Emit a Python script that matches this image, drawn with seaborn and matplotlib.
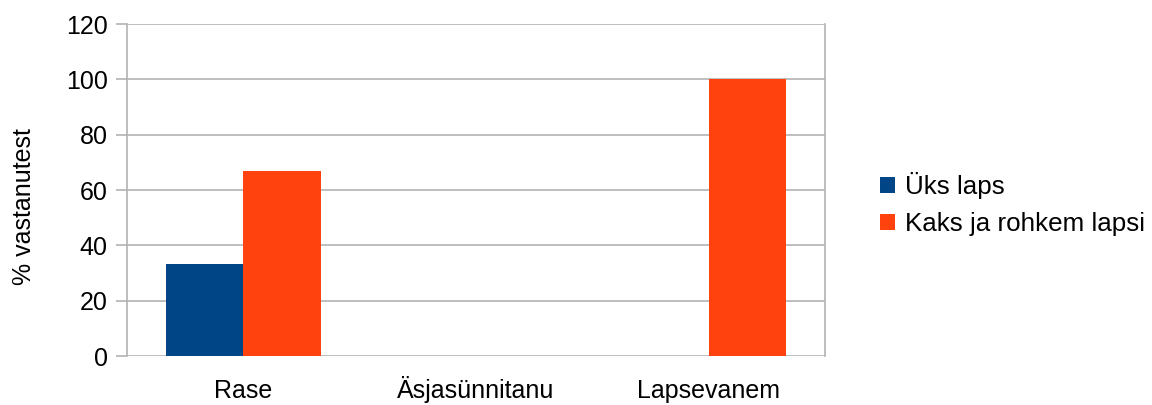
import matplotlib
matplotlib.use("Agg")
import matplotlib.pyplot as plt
import seaborn as sns
import pandas as pd
from matplotlib.patches import Patch

# Data
categories = ["Rase", "Äsjasünnitanu", "Lapsevanem"]
series_names = ["Üks laps", "Kaks ja rohkem lapsi"]
uks_laps = [33.3, 0, 0]
kaks_ja_rohkem = [66.7, 0, 100]
y_ticks = [0, 20, 40, 60, 80, 100, 120]
colors = ["#004586", "#ff420e"]

df = pd.DataFrame({
    "kategooria": categories * 2,
    "grupp": [series_names[0]] * 3 + [series_names[1]] * 3,
    "protsent": uks_laps + kaks_ja_rohkem,
})

sns.set_theme(style="white")
plt.rcParams["font.family"] = ["Liberation Sans", "DejaVu Sans"]
plt.rcParams["text.color"] = "black"
plt.rcParams["axes.labelcolor"] = "black"
plt.rcParams["xtick.color"] = "black"
plt.rcParams["ytick.color"] = "black"
fs = 18
legend_fs = 18.7
grid_color = "#b3b3b3"

fig = plt.figure(figsize=(11.52, 4.05), dpi=100)
ax = fig.add_axes([127 / 1152, 1 - 356 / 405, (825 - 127) / 1152, (356 - 24) / 405])

sns.barplot(data=df, x="kategooria", y="protsent", hue="grupp",
            order=categories, hue_order=series_names,
            palette=colors, saturation=1, width=0.667,
            linewidth=0, ax=ax, legend=False, zorder=3)

ax.set_xlim(-0.5, 2.5)
ax.set_ylim(0, 120)
ax.set_yticks(y_ticks)
ax.set_yticklabels([str(v) for v in y_ticks], fontsize=fs)
ax.yaxis.grid(True, color=grid_color, linewidth=1.2, zorder=0)
ax.set_axisbelow(True)

# Category ticks on the boundaries between groups
ax.set_xticks(range(len(categories)))
ax.set_xticklabels(categories, fontsize=fs, va="baseline")
ax.set_xticks([-0.5, 0.5, 1.5, 2.5], minor=True)
ax.tick_params(axis="x", which="major", length=0, pad=30, colors="black")
ax.tick_params(axis="x", which="minor", length=7.5, width=1.2, color=grid_color, direction="out")
ax.tick_params(axis="y", which="major", length=8, width=1.2, color=grid_color,
               labelcolor="black", direction="out", pad=6, left=True)

for side in ["left", "right"]:
    ax.spines[side].set_visible(True)
    ax.spines[side].set_color(grid_color)
    ax.spines[side].set_linewidth(1.2)
for side in ["top", "bottom"]:
    ax.spines[side].set_visible(False)

ax.set_xlabel("")
ax.set_ylabel("% vastanutest", fontsize=fs)
ax.yaxis.set_label_coords(-0.13, 0.45)

handles = [Patch(facecolor=c, edgecolor="none") for c in colors]
fig.legend(handles, series_names, loc="center left",
           bbox_to_anchor=(880 / 1152, 1 - 204 / 405),
           frameon=False, fontsize=legend_fs, borderpad=0, borderaxespad=0,
           handlelength=0.58, handleheight=0.58, handletextpad=0.4,
           labelspacing=0.5)

fig.savefig("out.png", dpi=100, facecolor="white")
